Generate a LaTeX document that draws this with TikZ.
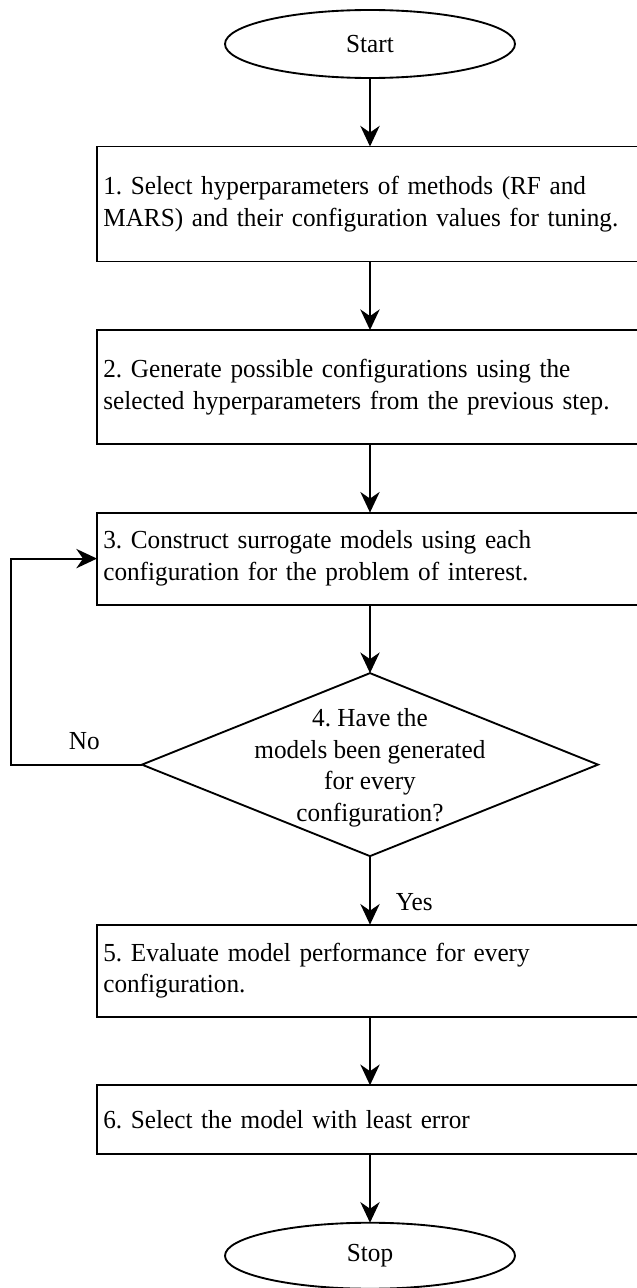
\documentclass[tikz,border=0pt]{standalone}
\usepackage{fontspec}
\setmainfont{Liberation Serif}[FakeStretch=0.97]
\frenchspacing
\usetikzlibrary{positioning,shapes.geometric,arrows.meta}

\begin{document}
\begin{tikzpicture}[
            node distance=51.4pt,
            every node/.style={font=\fontsize{19.5}{23.8}\selectfont},
            terminal/.style={draw, ellipse, line width=1.4pt, outer sep=0pt, minimum width=217.5pt, minimum height=51pt},
            process/.style={draw, rectangle, line width=1.4pt, outer sep=0pt, minimum width=409.5pt, text width=400pt, inner xsep=4.75pt, align=left},
            decision/.style={draw, diamond, line width=1.4pt, outer sep=0pt, inner sep=0pt, minimum width=342pt, minimum height=137.25pt},
            flow/.style={-{Stealth[length=15.5pt, width=14.5pt, inset=5pt]}, line width=1.4pt},
        ]
            \useasboundingbox (-277.5pt,33pt) rectangle (199.5pt,-933pt);
            \node [terminal] (start) {Start};
            \node [process, below=of start, minimum height=86.25pt] (select) {1. Select hyperparameters of methods (RF and\\MARS) and their configuration values for tuning.};
            \node [process, below=of select, minimum height=85.5pt] (generate) {2. Generate possible configurations using the\\selected hyperparameters from the previous step.};
            \node [process, below=of generate, minimum height=69pt] (construct) {3. Construct surrogate models using each\\configuration for the problem of interest.};
            \node [decision, below=of construct] (check) {};
            \node [align=center] (checktext) at ([yshift=-2.3pt]check.center) {4. Have the\\models been generated\\for every\\configuration?};
            \node [process, below=of check, minimum height=69pt] (evaluate) {5. Evaluate model performance for every\\configuration.};
            \node [process, below=of evaluate, minimum height=51.75pt] (best) {6. Select the model with least error};
            \node [terminal, below=of best, minimum height=49.5pt] (stop) {Stop};

            \draw [flow] (start) -- (select);
            \draw [flow] (select) -- (generate);
            \draw [flow] (generate) -- (construct);
            \draw [flow] (construct) -- (check);
            \draw [flow] (check.west) -- ++(-98.25pt,0) node [pos=0.44, above=10.5pt, inner sep=0pt] (no) {No} |- (construct.west);
            \draw [flow] (check.south) -- node [pos=0.67, right=18.75pt, inner sep=0pt] (yes) {Yes} (evaluate.north);
            \draw [flow] (evaluate) -- (best);
            \draw [flow] (best) -- (stop);
        \end{tikzpicture}
\end{document}
